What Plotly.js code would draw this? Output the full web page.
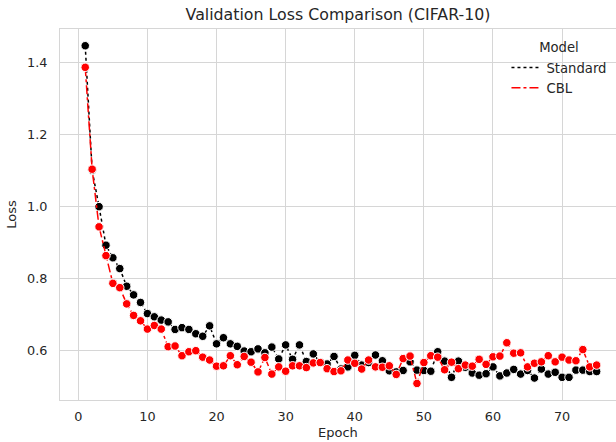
<!DOCTYPE html>
<html>
<head>
<meta charset="utf-8">
<script src="https://cdn.plot.ly/plotly-3.0.1.min.js"></script>
<style>html,body{margin:0;padding:0;background:#fff;}#chart{width:616px;height:442px;}</style>
</head>
<body>
<div id="chart"></div>
<script>
const epochs = Array.from({length: 75}, (_, i) => i + 1);

const standardLoss = [
  1.446, 1.100, 0.999, 0.892, 0.857, 0.827, 0.778, 0.754, 0.733, 0.702,
  0.693, 0.684, 0.679, 0.658, 0.663, 0.658, 0.646, 0.639, 0.668, 0.618,
  0.635, 0.618, 0.611, 0.598, 0.596, 0.604, 0.593, 0.609, 0.576, 0.615,
  0.575, 0.615, 0.569, 0.590, 0.566, 0.562, 0.583, 0.548, 0.554, 0.586,
  0.559, 0.566, 0.587, 0.571, 0.543, 0.540, 0.544, 0.568, 0.545, 0.544,
  0.542, 0.596, 0.570, 0.525, 0.570, 0.553, 0.537, 0.531, 0.535, 0.554,
  0.529, 0.537, 0.547, 0.534, 0.544, 0.523, 0.548, 0.534, 0.539, 0.525,
  0.525, 0.545, 0.545, 0.541, 0.541
];

const cblLoss = [
  1.386, 1.103, 0.943, 0.863, 0.786, 0.774, 0.729, 0.697, 0.682, 0.659,
  0.669, 0.659, 0.610, 0.612, 0.585, 0.596, 0.599, 0.581, 0.573, 0.556,
  0.557, 0.585, 0.560, 0.583, 0.567, 0.540, 0.580, 0.534, 0.554, 0.542,
  0.557, 0.557, 0.552, 0.565, 0.566, 0.549, 0.541, 0.543, 0.573, 0.564,
  0.548, 0.573, 0.554, 0.553, 0.557, 0.533, 0.577, 0.584, 0.508, 0.566,
  0.585, 0.581, 0.546, 0.567, 0.549, 0.559, 0.556, 0.575, 0.561, 0.582,
  0.584, 0.621, 0.592, 0.593, 0.554, 0.564, 0.568, 0.585, 0.568, 0.581,
  0.573, 0.571, 0.602, 0.554, 0.559
];

const seriesNames = ['Standard', 'CBL'];
const xTicks = [0, 10, 20, 30, 40, 50, 60, 70];
const yTicks = [0.6, 0.8, 1.0, 1.2, 1.4];

const FONT = 'DejaVu Sans, sans-serif';
const TXT = '#262626';
const GRID = '#d6d6d6';

const data = [
  {
    x: epochs, y: standardLoss, name: seriesNames[0], type: 'scatter', mode: 'lines+markers',
    line: {color: '#000000', width: 1.5, dash: 'dot'},
    marker: {color: '#000000', size: 8.5, line: {color: '#ffffff', width: 1}},
    showlegend: false
  },
  {
    x: epochs, y: cblLoss, name: seriesNames[1], type: 'scatter', mode: 'lines+markers',
    line: {color: '#ff0000', width: 1.5, dash: 'dashdot'},
    marker: {color: '#ff0000', size: 8.5, line: {color: '#ffffff', width: 1}},
    showlegend: false
  },
  {
    x: [null], y: [null], name: seriesNames[0], type: 'scatter', mode: 'lines',
    line: {color: '#000000', width: 1.5, dash: 'dot'}, showlegend: true
  },
  {
    x: [null], y: [null], name: seriesNames[1], type: 'scatter', mode: 'lines',
    line: {color: '#ff0000', width: 1.5, dash: 'dashdot'}, showlegend: true
  }
];

const layout = {
  width: 616, height: 442,
  margin: {l: 60, r: 0, t: 29, b: 42, pad: 0},
  paper_bgcolor: '#ffffff', plot_bgcolor: '#ffffff',
  font: {family: FONT, color: TXT, size: 12},
  title: {text: 'Validation Loss Comparison (CIFAR-10)', x: 0.5, xref: 'paper', y: 0.967, yanchor: 'middle',
          font: {family: FONT, size: 15.8, color: TXT}},
  xaxis: {
    range: [-2.65, 77.8], tickvals: xTicks, ticktext: xTicks.map(String),
    showgrid: true, gridcolor: GRID, gridwidth: 1, zeroline: false,
    showline: true, linecolor: GRID, linewidth: 1, mirror: true,
    ticks: 'outside', ticklen: 5, tickcolor: 'rgba(0,0,0,0)',
    tickfont: {family: FONT, size: 12.8, color: TXT}
  },
  yaxis: {
    range: [0.462, 1.4925], tickvals: yTicks, ticktext: yTicks.map(v => v.toFixed(1)),
    showgrid: true, gridcolor: GRID, gridwidth: 1, zeroline: false,
    showline: true, linecolor: GRID, linewidth: 1, mirror: true,
    ticks: 'outside', ticklen: 9, tickcolor: 'rgba(0,0,0,0)',
    tickfont: {family: FONT, size: 12.8, color: TXT},
    title: {text: 'Loss', font: {family: FONT, size: 13, color: TXT}, standoff: 7}
  },
  annotations: [{
    text: 'Epoch', xref: 'paper', yref: 'paper', x: 0.5, y: -0.0865, xanchor: 'center', yanchor: 'middle',
    showarrow: false, font: {family: FONT, size: 13, color: TXT}
  }],
  legend: {
    x: 0.803, xanchor: 'left', y: 0.983, yanchor: 'top',
    bgcolor: 'rgba(255,255,255,0)', borderwidth: 0,
    font: {family: FONT, size: 13.2, color: TXT},
    title: {text: 'Model', side: 'top center', font: {family: FONT, size: 13.2, color: TXT}},
    tracegroupgap: 0
  },
  showlegend: true
};

Plotly.newPlot('chart', data, layout, {displayModeBar: false, staticPlot: true});
</script>
</body>
</html>
